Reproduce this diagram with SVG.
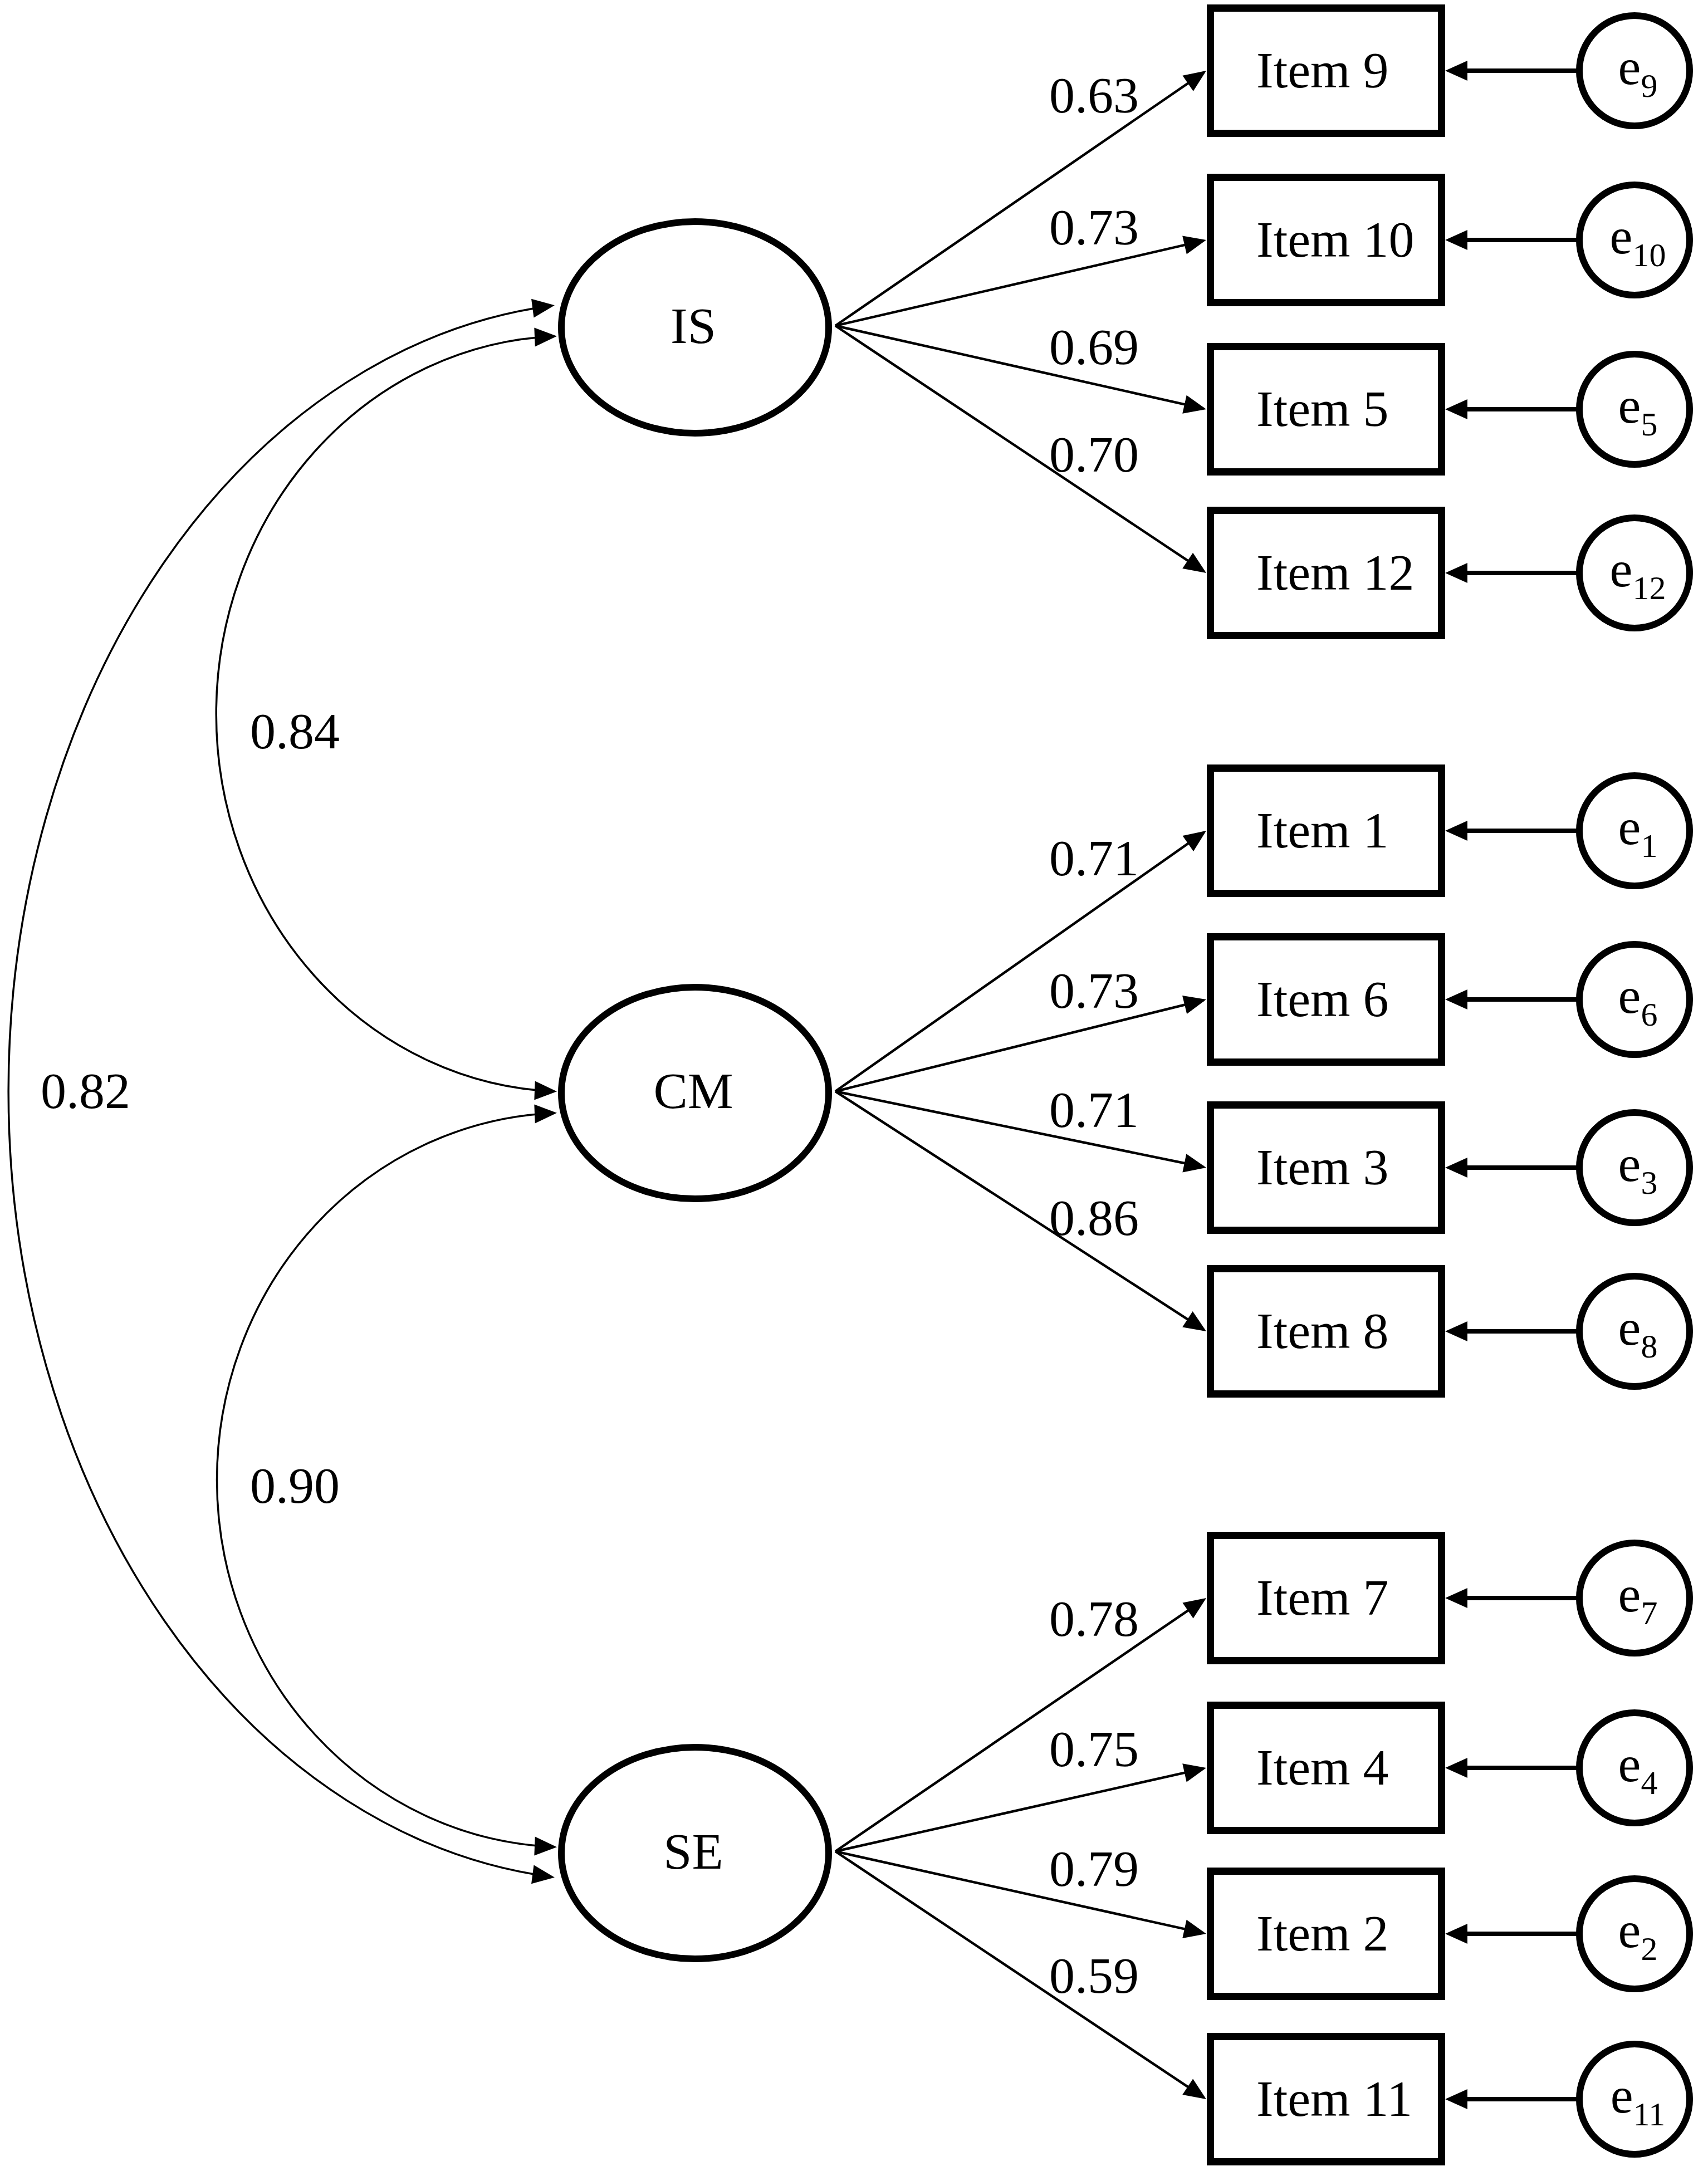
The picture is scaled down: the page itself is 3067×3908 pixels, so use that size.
<svg xmlns="http://www.w3.org/2000/svg" width="3067" height="3908" viewBox="0 0 3067 3908">
<style>
text{font-family:"Liberation Serif","Times New Roman",serif;font-size:92px;fill:#000}
.lat{fill:#fff;stroke:#000;stroke-width:12}
.box{fill:#fff;stroke:#000;stroke-width:13}
.err{fill:#fff;stroke:#000;stroke-width:12}
.ld{fill:none;stroke:#000;stroke-width:4.5;marker-end:url(#arr)}
.ea{fill:none;stroke:#000;stroke-width:8;marker-end:url(#arrE)}
.cov{fill:none;stroke:#000;stroke-width:3.5;marker-start:url(#arr);marker-end:url(#arr)}
.sub{font-size:60px}
.lbl{text-anchor:start}
.it{text-anchor:start}
.mid{text-anchor:middle}
</style>
<defs>
<marker id="arr" markerUnits="userSpaceOnUse" viewBox="-40 -20 50 40" markerWidth="50" markerHeight="40" refX="0" refY="0" orient="auto-start-reverse">
<path d="M5,0 L-35,-17 L-35,17 Z" fill="#000"/>
</marker>
<marker id="arrE" markerUnits="userSpaceOnUse" viewBox="-35 -20 50 40" markerWidth="50" markerHeight="40" refX="0" refY="0" orient="auto">
<path d="M12,0 L-28,-18 L-28,18 Z" fill="#000"/>
</marker>
</defs>
<rect x="0" y="0" width="3067" height="3908" fill="#fff"/>

<g id="connectors">
<path class="cov" d="M991 549 A1085 1418.2 0 0 0 991 3371"/>
<path class="cov" d="M995 604 A631 678.5 0 0 0 995 1960"/>
<path class="cov" d="M995 1999 A630 659.5 0 0 0 995 3317"/>

<line class="ld" x1="1500" y1="585" x2="2161.9" y2="129.8"/>
<line class="ld" x1="1500" y1="585" x2="2161.1" y2="432.1"/>
<line class="ld" x1="1500" y1="585" x2="2161.1" y2="733.9"/>
<line class="ld" x1="1500" y1="585" x2="2161.8" y2="1026.2"/>

<line class="ld" x1="1500" y1="1960" x2="2161.9" y2="1494.9"/>
<line class="ld" x1="1500" y1="1960" x2="2161.1" y2="1796.2"/>
<line class="ld" x1="1500" y1="1960" x2="2161.1" y2="2096.0"/>
<line class="ld" x1="1500" y1="1960" x2="2161.8" y2="2388.3"/>

<line class="ld" x1="1500" y1="3325" x2="2161.9" y2="2872.8"/>
<line class="ld" x1="1500" y1="3325" x2="2161.1" y2="3176.1"/>
<line class="ld" x1="1500" y1="3325" x2="2161.1" y2="3471.9"/>
<line class="ld" x1="1500" y1="3325" x2="2161.8" y2="3767.2"/>

<line class="ea" x1="2836" y1="127" x2="2607" y2="127"/>
<line class="ea" x1="2836" y1="431" x2="2607" y2="431"/>
<line class="ea" x1="2836" y1="735" x2="2607" y2="735"/>
<line class="ea" x1="2836" y1="1029" x2="2607" y2="1029"/>
<line class="ea" x1="2836" y1="1492" x2="2607" y2="1492"/>
<line class="ea" x1="2836" y1="1795" x2="2607" y2="1795"/>
<line class="ea" x1="2836" y1="2097" x2="2607" y2="2097"/>
<line class="ea" x1="2836" y1="2391" x2="2607" y2="2391"/>
<line class="ea" x1="2836" y1="2870" x2="2607" y2="2870"/>
<line class="ea" x1="2836" y1="3175" x2="2607" y2="3175"/>
<line class="ea" x1="2836" y1="3473" x2="2607" y2="3473"/>
<line class="ea" x1="2836" y1="3770" x2="2607" y2="3770"/>

<text class="lbl" x="449" y="1344">0.84</text>
<text class="lbl" x="73" y="1990">0.82</text>
<text class="lbl" x="449" y="2699">0.90</text>

<text class="lbl" x="1884" y="202">0.63</text>
<text class="lbl" x="1884" y="439">0.73</text>
<text class="lbl" x="1884" y="654">0.69</text>
<text class="lbl" x="1884" y="847">0.70</text>
<text class="lbl" x="1884" y="1572">0.71</text>
<text class="lbl" x="1884" y="1810">0.73</text>
<text class="lbl" x="1884" y="2024">0.71</text>
<text class="lbl" x="1884" y="2218">0.86</text>
<text class="lbl" x="1884" y="2938">0.78</text>
<text class="lbl" x="1884" y="3172">0.75</text>
<text class="lbl" x="1884" y="3387">0.79</text>
<text class="lbl" x="1884" y="3579">0.59</text>
</g>

<g id="IS"><ellipse class="lat" cx="1248" cy="588" rx="240" ry="190"/><text class="mid" x="1245" y="616">IS</text></g>
<g id="CM"><ellipse class="lat" cx="1248" cy="1963" rx="240" ry="190"/><text class="mid" x="1245" y="1990">CM</text></g>
<g id="SE"><ellipse class="lat" cx="1248" cy="3328" rx="240" ry="190"/><text class="mid" x="1245" y="3356">SE</text></g>

<g id="item9"><rect class="box" x="2173.5" y="14.5" width="415" height="225"/><text class="it" x="2256" y="157">Item 9</text></g>
<g id="item10"><rect class="box" x="2173.5" y="318.5" width="415" height="225"/><text class="it" x="2256" y="461">Item 10</text></g>
<g id="item5"><rect class="box" x="2173.5" y="622.5" width="415" height="225"/><text class="it" x="2256" y="765">Item 5</text></g>
<g id="item12"><rect class="box" x="2173.5" y="916.5" width="415" height="225"/><text class="it" x="2256" y="1059">Item 12</text></g>
<g id="item1"><rect class="box" x="2173.5" y="1379.5" width="415" height="225"/><text class="it" x="2256" y="1522">Item 1</text></g>
<g id="item6"><rect class="box" x="2173.5" y="1682.5" width="415" height="225"/><text class="it" x="2256" y="1825">Item 6</text></g>
<g id="item3"><rect class="box" x="2173.5" y="1984.5" width="415" height="225"/><text class="it" x="2256" y="2127">Item 3</text></g>
<g id="item8"><rect class="box" x="2173.5" y="2278.5" width="415" height="225"/><text class="it" x="2256" y="2421">Item 8</text></g>
<g id="item7"><rect class="box" x="2173.5" y="2757.5" width="415" height="225"/><text class="it" x="2256" y="2900">Item 7</text></g>
<g id="item4"><rect class="box" x="2173.5" y="3062.5" width="415" height="225"/><text class="it" x="2256" y="3205">Item 4</text></g>
<g id="item2"><rect class="box" x="2173.5" y="3360.5" width="415" height="225"/><text class="it" x="2256" y="3503">Item 2</text></g>
<g id="item11"><rect class="box" x="2173.5" y="3657.5" width="415" height="225"/><text class="it" x="2256" y="3800">Item 11</text></g>

<g id="e9"><circle class="err" cx="2935" cy="127" r="99"/><text class="mid" x="2941" y="151">e<tspan class="sub" dy="23">9</tspan></text></g>
<g id="e10"><circle class="err" cx="2935" cy="431" r="99"/><text class="mid" x="2941" y="455">e<tspan class="sub" dy="23">10</tspan></text></g>
<g id="e5"><circle class="err" cx="2935" cy="735" r="99"/><text class="mid" x="2941" y="759">e<tspan class="sub" dy="23">5</tspan></text></g>
<g id="e12"><circle class="err" cx="2935" cy="1029" r="99"/><text class="mid" x="2941" y="1053">e<tspan class="sub" dy="23">12</tspan></text></g>
<g id="e1"><circle class="err" cx="2935" cy="1492" r="99"/><text class="mid" x="2941" y="1516">e<tspan class="sub" dy="23">1</tspan></text></g>
<g id="e6"><circle class="err" cx="2935" cy="1795" r="99"/><text class="mid" x="2941" y="1819">e<tspan class="sub" dy="23">6</tspan></text></g>
<g id="e3"><circle class="err" cx="2935" cy="2097" r="99"/><text class="mid" x="2941" y="2121">e<tspan class="sub" dy="23">3</tspan></text></g>
<g id="e8"><circle class="err" cx="2935" cy="2391" r="99"/><text class="mid" x="2941" y="2415">e<tspan class="sub" dy="23">8</tspan></text></g>
<g id="e7"><circle class="err" cx="2935" cy="2870" r="99"/><text class="mid" x="2941" y="2894">e<tspan class="sub" dy="23">7</tspan></text></g>
<g id="e4"><circle class="err" cx="2935" cy="3175" r="99"/><text class="mid" x="2941" y="3199">e<tspan class="sub" dy="23">4</tspan></text></g>
<g id="e2"><circle class="err" cx="2935" cy="3473" r="99"/><text class="mid" x="2941" y="3497">e<tspan class="sub" dy="23">2</tspan></text></g>
<g id="e11"><circle class="err" cx="2935" cy="3770" r="99"/><text class="mid" x="2941" y="3794">e<tspan class="sub" dy="23">11</tspan></text></g>
</svg>
